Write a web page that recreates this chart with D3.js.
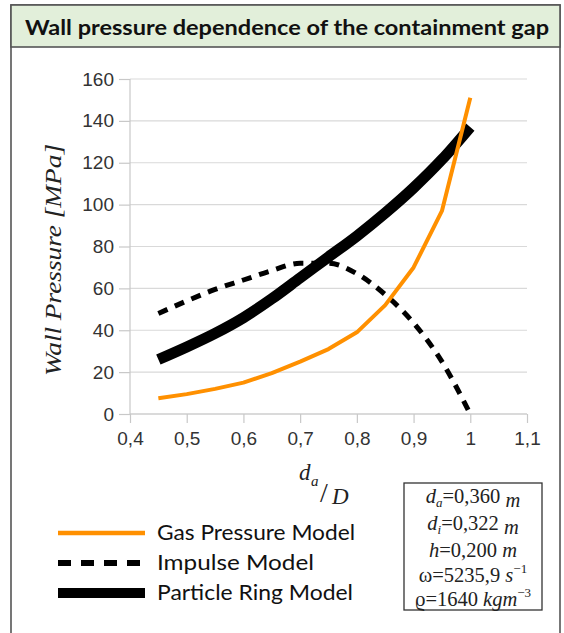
<!DOCTYPE html>
<html><head><meta charset="utf-8">
<script src="https://cdn.jsdelivr.net/npm/d3@7"></script>
<style>body{margin:0;background:#fff}svg{display:block}</style>
</head><body>
<script>
const xValues = [0.45,0.5,0.55,0.6,0.65,0.7,0.75,0.8,0.85,0.9,0.95,1.0];
const gasPressure = [7.5,9.5,12,15,19.5,25,31,39,52,70,97,151];
const impulse = [48,54,59.5,64,68.5,72,72,67,57,43.5,25,0];
const particleRing = [26,32,38.5,46,55,65,75,85,96,108,121.5,137];
const seriesNames = ["Gas Pressure Model","Impulse Model","Particle Ring Model"];
const xTicks = [0.4,0.5,0.6,0.7,0.8,0.9,1.0,1.1];
const yTicks = [0,20,40,60,80,100,120,140,160];
const title = "Wall pressure dependence of the containment gap";

const W=564,H=633;
const svg=d3.select("body").append("svg").attr("width",W).attr("height",H);

// frame + title bar
svg.append("rect").attr("x",11).attr("y",5).attr("width",549).attr("height",660)
  .attr("fill","#fff").attr("stroke","#555").attr("stroke-width",1.6);
svg.append("rect").attr("x",11).attr("y",5).attr("width",549).attr("height",42)
  .attr("fill","#e2efda").attr("stroke","#555").attr("stroke-width",1.6);
svg.append("text").attr("x",287).attr("y",35).attr("text-anchor","middle")
  .attr("font-family","Lato, 'Open Sans', sans-serif").attr("font-weight","bold")
  .attr("font-size",21).attr("fill","#111").attr("textLength",524).attr("lengthAdjust","spacingAndGlyphs")
  .text(title);

const x=d3.scaleLinear().domain([0.4,1.1]).range([130,527]);
const y=d3.scaleLinear().domain([0,160]).range([414,79]);

// gridlines
svg.append("g").selectAll("line").data(yTicks).join("line")
  .attr("x1",130).attr("x2",527).attr("y1",d=>y(d)).attr("y2",d=>y(d))
  .attr("stroke","#d9d9d9").attr("stroke-width",1.2);

const fmt=d=>String(d).replace(".",",");
const ya=svg.append("g").attr("transform","translate(130,0)")
  .call(d3.axisLeft(y).tickValues(yTicks).tickSize(11).tickPadding(5).tickFormat(fmt));
const xa=svg.append("g").attr("transform","translate(0,414)")
  .call(d3.axisBottom(x).tickValues(xTicks).tickSize(9).tickPadding(9).tickFormat(fmt));
[ya,xa].forEach(g=>{
  g.attr("font-family","'Liberation Sans', Arial, sans-serif").attr("font-size",19);
  g.select(".domain").attr("stroke","#c8c8c8").attr("stroke-width",1.2);
  g.selectAll(".tick line").attr("stroke","#c8c8c8").attr("stroke-width",1.2);
  g.selectAll("text").attr("font-family","'Liberation Sans', Arial, sans-serif").attr("font-size",19).attr("fill","#333");
});
xa.select(".domain").attr("d","M130,0H527");
ya.select(".domain").attr("d","M0,414V79");

// series
const pts=vals=>xValues.map((v,i)=>[v,vals[i]]);
const smooth=d3.line().x(d=>x(d[0])).y(d=>y(d[1])).curve(d3.curveMonotoneX);
const straight=d3.line().x(d=>x(d[0])).y(d=>y(d[1]));
svg.append("path").datum(pts(particleRing)).attr("d",smooth).attr("fill","none")
  .attr("stroke","#000").attr("stroke-width",11);
svg.append("path").datum(pts(impulse)).attr("d",smooth).attr("fill","none")
  .attr("stroke","#000").attr("stroke-width",5).attr("stroke-dasharray","10,8");
svg.append("path").datum(pts(gasPressure)).attr("d",straight).attr("fill","none")
  .attr("stroke","#ff9000").attr("stroke-width",4).attr("stroke-linejoin","round");

// y title
svg.append("text").attr("transform","translate(61,260) rotate(-90)").attr("text-anchor","middle")
  .attr("font-family","'Liberation Serif','DejaVu Serif',serif").attr("font-style","italic")
  .attr("font-size",23).attr("fill","#222").attr("textLength",232).attr("lengthAdjust","spacingAndGlyphs")
  .text("Wall Pressure [MPa]");

// x title (fraction d_a / D)
const xt=svg.append("g").attr("font-family","'Liberation Serif','DejaVu Serif',serif").attr("fill","#222");
xt.append("text").attr("x",299).attr("y",480).attr("font-style","italic").attr("font-size",23).text("d");
xt.append("text").attr("x",311).attr("y",486).attr("font-style","italic").attr("font-size",15).text("a");
xt.append("text").attr("x",320).attr("y",502).attr("font-size",28).text("/");
xt.append("text").attr("x",332).attr("y",504).attr("font-style","italic").attr("font-size",23).text("D");

// legend
const lg=svg.append("g");
const ly=[533,563,593];
const tl=[198,157,196];
const styles=[{c:"#ff9000",w:4.3,d:null},{c:"#000",w:6,d:"13,10"},{c:"#000",w:10,d:null}];
seriesNames.forEach((n,i)=>{
  lg.append("line").attr("x1",58).attr("x2",145).attr("y1",ly[i]).attr("y2",ly[i])
    .attr("stroke",styles[i].c).attr("stroke-width",styles[i].w).attr("stroke-dasharray",styles[i].d);
  lg.append("text").attr("x",157).attr("y",ly[i]+7).attr("font-family","Lato, 'Open Sans', sans-serif")
    .attr("font-size",20.5).attr("fill","#111").attr("textLength",tl[i]).attr("lengthAdjust","spacingAndGlyphs").text(n);
});

// parameter box
svg.append("rect").attr("x",404).attr("y",483).attr("width",138).attr("height",127)
  .attr("fill","#fff").attr("stroke","#333").attr("stroke-width",1.3);
const pf="'Liberation Serif','DejaVu Serif',serif";
const pb=[503,530,557,582,606];
const params=[
  [["d","i"],["a","sub"],["=0,360 ",""],["m","i"]],
  [["d","i"],["i","sub"],["=0,322 ",""],["m","i"]],
  [["h","i"],["=0,200 ",""],["m","i"]],
  [["ω",""],["=5235,9 ",""],["s","i"],["−1","sup"]],
  [["ϱ",""],["=1640 ",""],["kgm","i"],["−3","sup"]]
];
params.forEach((p,i)=>{
  const t=svg.append("text").attr("x",473).attr("y",pb[i]).attr("text-anchor","middle")
    .attr("font-family",pf).attr("font-size",20.5).attr("fill","#222");
  p.forEach(([s,k])=>{
    const ts=t.append("tspan").text(s);
    if(k==="i"||k==="sub") ts.attr("font-style","italic");
    if(k==="sub") ts.attr("font-size",13).attr("dy",4);
    if(k==="sup") ts.attr("font-size",13).attr("dy",-9);
  });
  t.selectAll("tspan").each(function(d,j,nodes){
    const prev=j>0?nodes[j-1].getAttribute("dy"):null;
    if(prev && !this.getAttribute("dy")) d3.select(this).attr("dy",-prev);
  });
});
</script>
</body></html>
